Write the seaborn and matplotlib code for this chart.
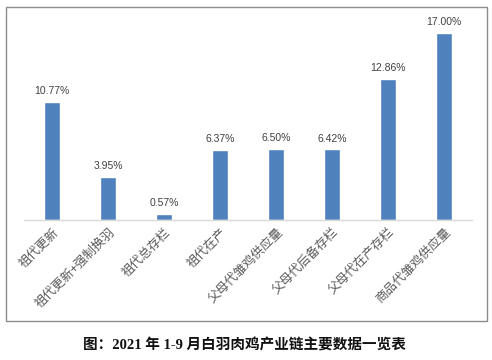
import matplotlib
matplotlib.use("Agg")
import matplotlib.pyplot as plt
import pandas as pd
import seaborn as sns
from matplotlib.patches import Rectangle

categories = ["祖代更新", "祖代更新+强制换羽", "祖代总存栏", "祖代在产",
              "父母代雏鸡供应量", "父母代后备存栏", "父母代在产存栏", "商品代雏鸡供应量"]
values = [10.77, 3.95, 0.57, 6.37, 6.50, 6.42, 12.86, 17.00]
caption = "图：2021 年 1-9 月白羽肉鸡产业链主要数据一览表"

sns.set_style("white")
plt.rcParams["font.family"] = ["Noto Sans CJK SC", "DejaVu Sans"]

df = pd.DataFrame({"item": categories, "pct": values})

fig = plt.figure(figsize=(4.92, 3.6), dpi=100)
ax = fig.add_axes([24 / 492, 140 / 360, 448 / 492, 198 / 360])
sns.barplot(data=df, x="item", y="pct", color="#4F81BD", saturation=1, width=0.3, ax=ax)

ax.set_ylim(0, 18)
ax.set_xlim(-0.5, len(categories) - 0.5)
ax.set_yticks([])
ax.set_xlabel("")
ax.set_ylabel("")
for side in ["top", "right", "left"]:
    ax.spines[side].set_visible(False)
ax.spines["bottom"].set_color("#d9d9d9")
ax.spines["bottom"].set_linewidth(1)

ax.bar_label(ax.containers[0], labels=[f"{v:.2f}%" for v in values], padding=4,
             fontsize=7.5, color="#404040", family=["Liberation Sans", "DejaVu Sans"])

ax.tick_params(axis="x", length=0, pad=4)
ax.set_xticks(range(len(categories)))
ax.set_xticklabels(categories, rotation=45, ha="right", rotation_mode="anchor",
                   fontsize=9, color="#595959")

fig.patches.append(Rectangle((6 / 492, 39 / 360), 481 / 492, 314 / 360, transform=fig.transFigure,
                             fill=False, edgecolor="#8c8c8c", linewidth=1))

fig.text(0.497, 15 / 360, caption, ha="center", va="center", fontsize=10.5, fontweight="bold",
         family=["Liberation Serif", "Noto Sans CJK SC"], color="#111111")

fig.savefig("out.png", dpi=100)
